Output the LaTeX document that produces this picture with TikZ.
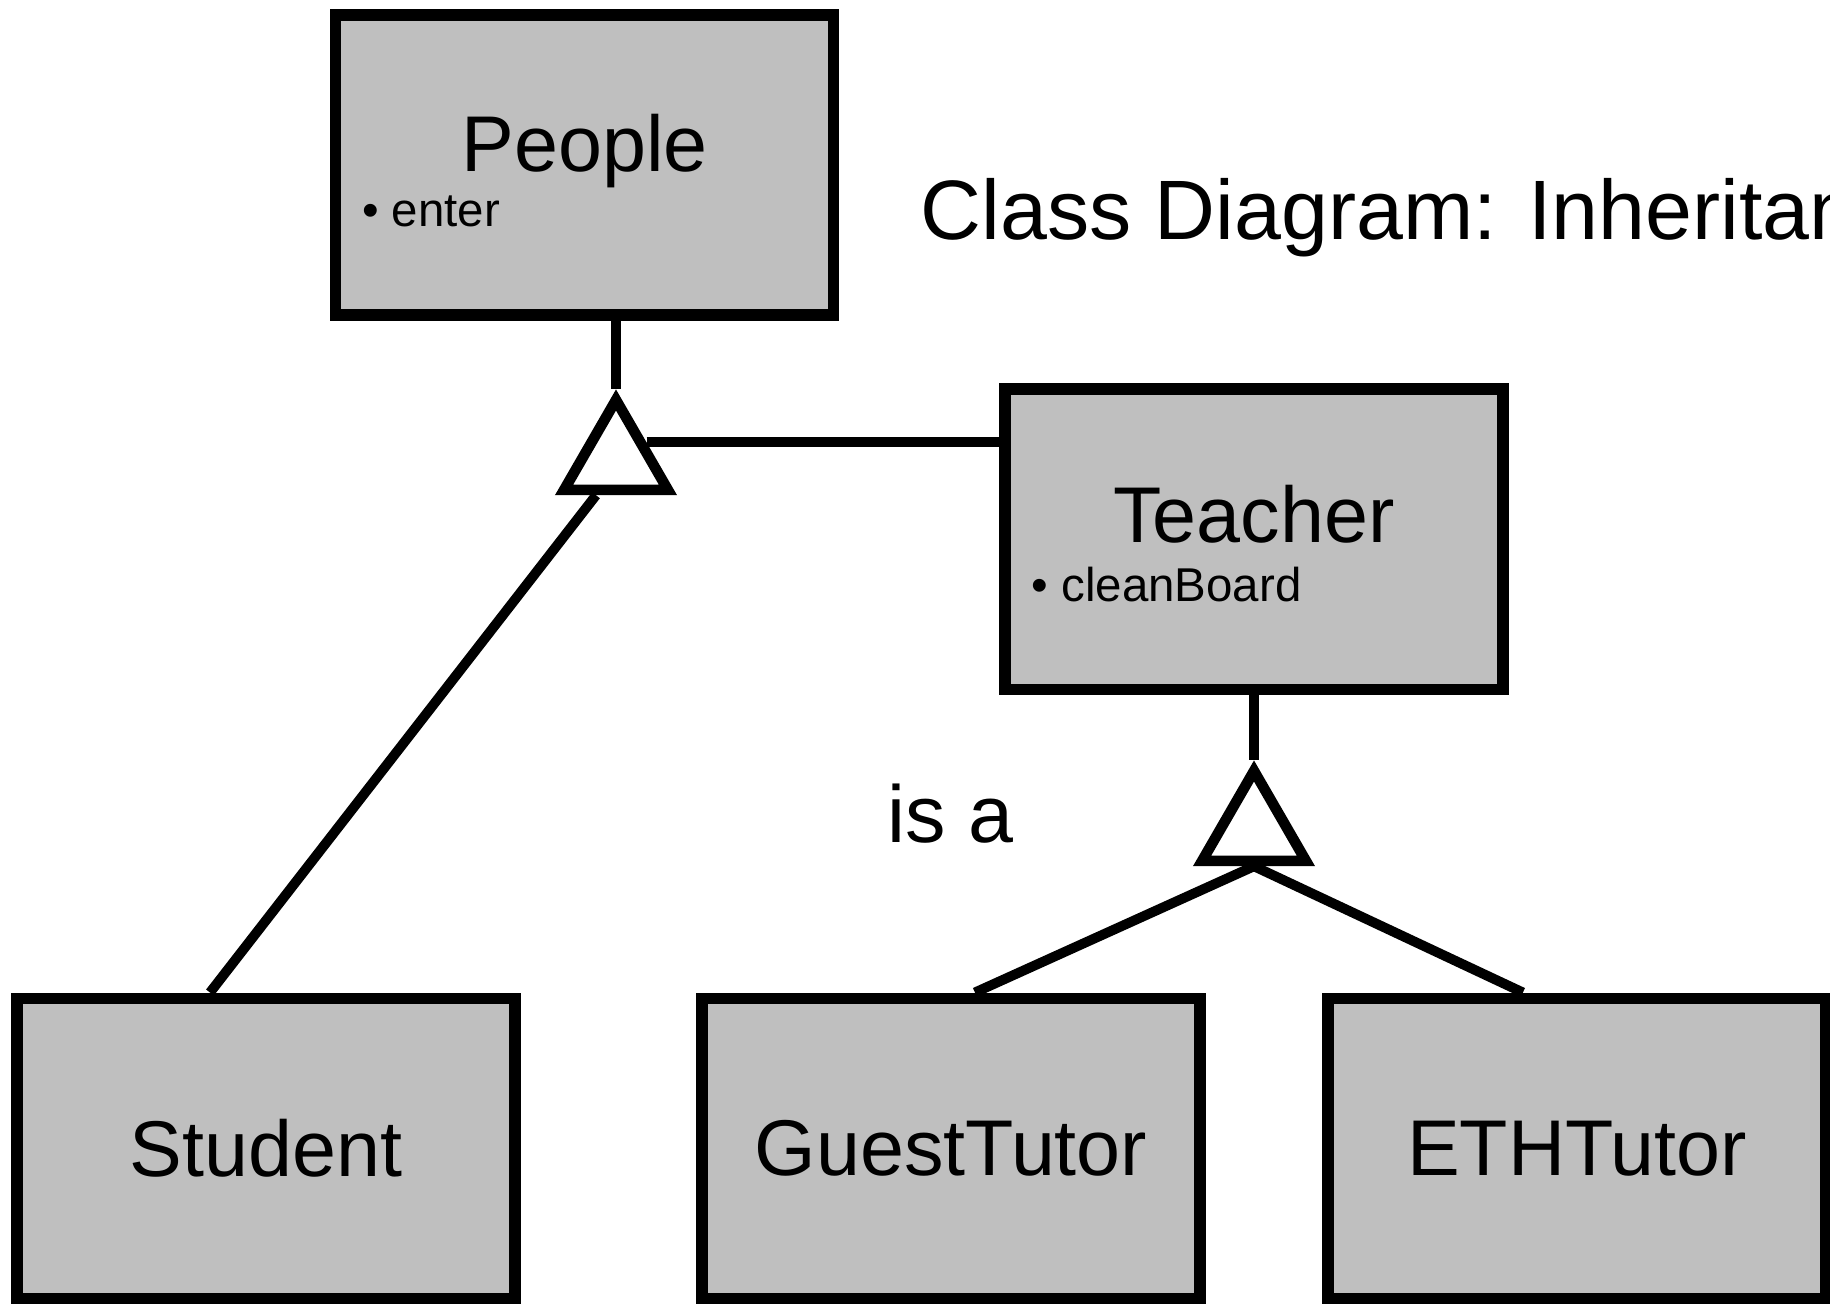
\documentclass[tikz,border=0pt]{standalone}
\usepackage{fontspec}
\setmainfont{Liberation Sans}
\usetikzlibrary{calc,positioning,backgrounds,shapes.geometric}

\tikzset{
  classbox/.style={draw, fill=black!25, line width=3.4pt, minimum width=4.98cm, minimum height=3cm,
    inner sep=0pt, font=\fontsize{22.5}{27}\selectfont},
  classname/.style={anchor=base, inner sep=0pt, font=\fontsize{22.5}{27}\selectfont},
  opname/.style={anchor=base west, inner sep=0pt, font=\fontsize{13.5}{16}\selectfont},
  isa/.style={regular polygon, regular polygon sides=3, draw, fill=white, line width=3pt,
    minimum size=1.2cm, inner sep=0pt},
  link/.style={line width=2.8pt}
}

\begin{document}
\begin{tikzpicture}
    \useasboundingbox (0,0) rectangle (18.30,13.06);
    % classes
    \node (people) [classbox] at (5.845,11.41) {};
    \node (peoplename) [classname] at ([yshift=-0.07cm]people.center) {People};
    \node (peopleop) [opname] at ($(people.west)+(0.32,-0.62)$) {• enter};
    \node (teacher) [classbox] at (12.54,7.665) {};
    \node (teachername) [classname] at ([yshift=-0.03cm]teacher.center) {Teacher};
    \node (teacherop) [opname] at ($(teacher.west)+(0.32,-0.62)$) {• cleanBoard};
    \node (student) [classbox] at (2.66,1.575) {Student};
    \node (guest) [classbox, right=1.75cm of student] {GuestTutor};
    \node (eth) [classbox, right=1.16cm of guest] {ETHTutor};
    % inheritance triangles
    \node (tri1) [isa] at (6.16,8.46) {};
    \node (tri2) [isa] at (12.54,4.75) {};
    % texts
    \node (title) [anchor=base west, inner sep=0pt, font=\fontsize{24}{29}\selectfont] at (9.20,10.66) {Class Diagram: Inheritance};
    \node (isalabel) [anchor=base west, inner sep=0pt, font=\fontsize{23}{28}\selectfont] at (8.87,4.63) {is a};
    % connectors
    \begin{scope}[on background layer]
    \draw[link] (people.south -| tri1.corner 1) -- (tri1.corner 1);
    \draw[link] (tri1.side 3) -- (tri1.side 3 -| teacher.west);
    \draw[link] ([xshift=-0.2cm]tri1.side 2) -- ([xshift=-0.56cm]student.north);
    \draw[link] (teacher.south) -- (tri2.corner 1);
    \draw[link] (tri2.side 2) -- ([xshift=0.24cm]guest.north);
    \draw[link] (tri2.side 2) -- ([xshift=-0.54cm]eth.north);
    \end{scope}
\end{tikzpicture}
\end{document}
